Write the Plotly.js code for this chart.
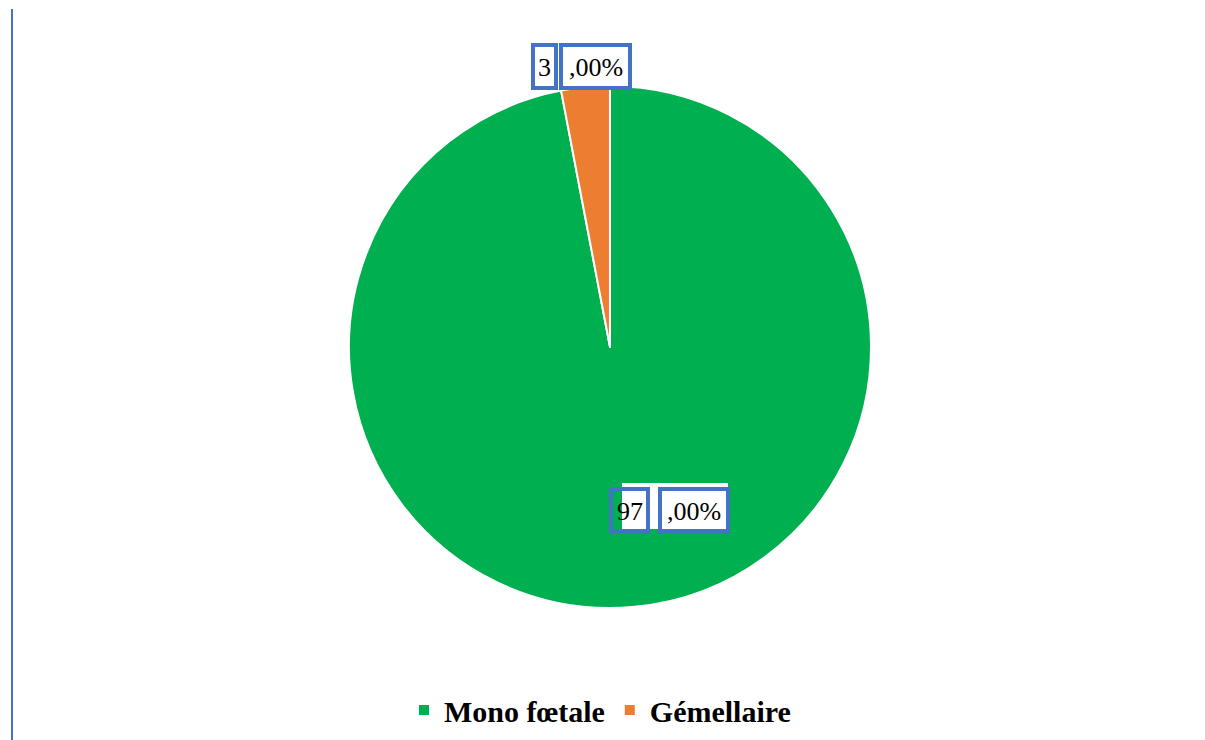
<!DOCTYPE html>
<html><head><meta charset="utf-8">
<script src="https://cdn.plot.ly/plotly-3.0.1.min.js"></script>
<style>html,body{margin:0;padding:0;background:#fff;}</style>
</head><body>
<div id="chart" style="width:1205px;height:740px;"></div>
<script>
const categories = ["Mono fœtale", "Gémellaire"];
const values = [97.00, 3.00];
const colors = ["#00B050", "#ED7D31"];

const W = 1205, H = 740;
const px = x => x / W;
const py = y => 1 - y / H;
const fmt = v => v.toFixed(2).replace('.', ',');
const splitLabel = v => { const s = fmt(v) + '%'; const i = s.indexOf(','); return [s.slice(0, i), s.slice(i)]; };

const blue = "#4472C4";
const serif = "Liberation Serif";
const labelFont = {family: serif, size: 26, color: "#000"};

// label placement (layout)
const labelBoxes = [
  {a: [533, 45, 556, 88], b: [561, 45, 630, 88], bg: null},
  {a: [611, 489, 648, 532], b: [660, 489, 728, 532], bg: [622, 483, 728, 529]}
];
const order = [1, 0];
const shapes = [
  {type: 'line', xref: 'paper', yref: 'paper', x0: px(12), x1: px(12), y0: py(9), y1: py(740), line: {color: blue, width: 2}}
];
const annotations = [];
order.forEach((idx, k) => {
  const bx = labelBoxes[k];
  const parts = splitLabel(values[idx]);
  if (bx.bg) shapes.push({type: 'rect', xref: 'paper', yref: 'paper', x0: px(bx.bg[0]), x1: px(bx.bg[2]), y0: py(bx.bg[3]), y1: py(bx.bg[1]), fillcolor: '#fff', line: {width: 0}, layer: 'above'});
  else shapes.push({type: 'rect', xref: 'paper', yref: 'paper', x0: px(bx.a[0]), x1: px(bx.b[2]), y0: py(bx.a[3]), y1: py(bx.a[1]), fillcolor: '#fff', line: {width: 0}, layer: 'above'});
  [bx.a, bx.b].forEach((r, j) => {
    shapes.push({type: 'rect', xref: 'paper', yref: 'paper', x0: px(r[0]), x1: px(r[2]), y0: py(r[3]), y1: py(r[1]), line: {color: blue, width: 4}, layer: 'above'});
    annotations.push({xref: 'paper', yref: 'paper', x: px((r[0] + r[2]) / 2), y: py((r[1] + r[3]) / 2 + 1), text: parts[j], showarrow: false, font: labelFont, xanchor: 'center', yanchor: 'middle'});
  });
});

const data = [{
  type: 'pie',
  labels: categories,
  values: values,
  marker: {colors: colors, line: {color: '#fff', width: 2}},
  sort: false,
  direction: 'clockwise',
  rotation: 0,
  textinfo: 'none',
  hoverinfo: 'label+percent',
  domain: {x: [px(349), px(871)], y: [py(608), py(86)]}
}];

const layout = {
  width: W, height: H,
  margin: {l: 0, r: 0, t: 0, b: 0},
  paper_bgcolor: '#fff',
  showlegend: true,
  legend: {orientation: 'h', x: px(600), xanchor: 'center', y: py(684), yanchor: 'top',
    font: {family: serif, size: 30, color: '#000', weight: 'bold'},
    itemwidth: 30, tracegroupgap: 0},
  shapes: shapes,
  annotations: annotations
};
Plotly.newPlot('chart', data, layout, {displayModeBar: false});
</script>
</body></html>
